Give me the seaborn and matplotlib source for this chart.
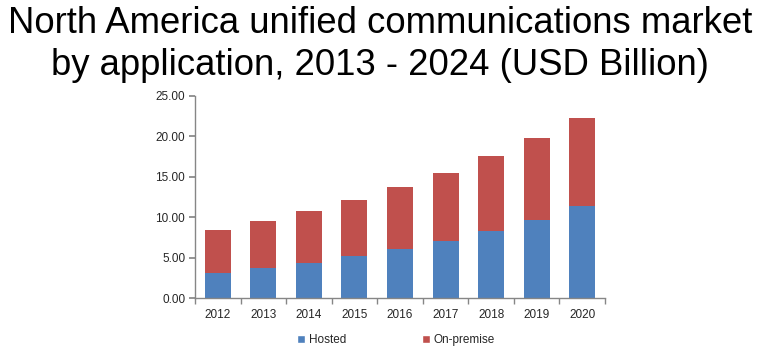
import matplotlib
matplotlib.use("Agg")
import matplotlib.pyplot as plt
import seaborn as sns
import pandas as pd
import numpy as np
from matplotlib.patches import Patch

years = ["2012", "2013", "2014", "2015", "2016", "2017", "2018", "2019", "2020"]
hosted = [3.12, 3.78, 4.36, 5.26, 6.09, 7.07, 8.31, 9.70, 11.43]
on_premise = [5.31, 5.76, 6.45, 6.87, 7.64, 8.39, 9.25, 10.08, 10.82]

sns.set_theme(style="white")
plt.rcParams['font.family'] = ['Liberation Sans', 'DejaVu Sans']

blue = "#4F81BD"
red = "#C0504D"

df = pd.DataFrame({"year": years, "hosted": hosted, "on_premise": on_premise})
df["total"] = df["hosted"] + df["on_premise"]

fig = plt.figure(figsize=(7.6, 3.58), dpi=100)
ax = fig.add_axes([0.2566, 0.1668, 0.5395, 0.566])

sns.barplot(data=df, x="year", y="total", color=red, width=0.57, saturation=1, linewidth=0, ax=ax)
sns.barplot(data=df, x="year", y="hosted", color=blue, width=0.57, saturation=1, linewidth=0, ax=ax)

ax.set_xlim(-0.5, len(years) - 0.5)
ax.set_ylim(0, 25)
ax.set_yticks(np.arange(0, 25.01, 5))
ax.set_yticklabels([f"{v:.2f}" for v in np.arange(0, 25.01, 5)], fontsize=8.5)
ax.set_xlabel("")
ax.set_ylabel("")
ax.tick_params(axis="x", which="major", length=0, labelsize=8.5, pad=8)
ax.set_xticks(np.arange(-0.5, len(years), 1), minor=True)
ax.tick_params(axis="x", which="minor", length=4, color="#868686", direction="out", bottom=True)
ax.tick_params(axis="y", which="major", length=4, color="#868686", direction="out", left=True, pad=3)
for s in ["top", "right"]:
    ax.spines[s].set_visible(False)
for s in ["left", "bottom"]:
    ax.spines[s].set_color("#868686")
    ax.spines[s].set_linewidth(1)

fig.text(0.5, 0.907, "North America unified communications market", ha="center", va="baseline", fontsize=26.3, color="black")
fig.text(0.5, 0.7905, "by application, 2013 - 2024 (USD Billion)", ha="center", va="baseline", fontsize=26.3, color="black")

handles = [Patch(facecolor=blue, label="Hosted"), Patch(facecolor=red, label="On-premise")]
fig.legend(handles=handles, loc="center", bbox_to_anchor=(0.521, 0.05), ncol=2, frameon=False,
           fontsize=8.5, handlelength=0.7, handleheight=0.7, handletextpad=0.3, columnspacing=6.4)

fig.savefig("out.png", dpi=100)
